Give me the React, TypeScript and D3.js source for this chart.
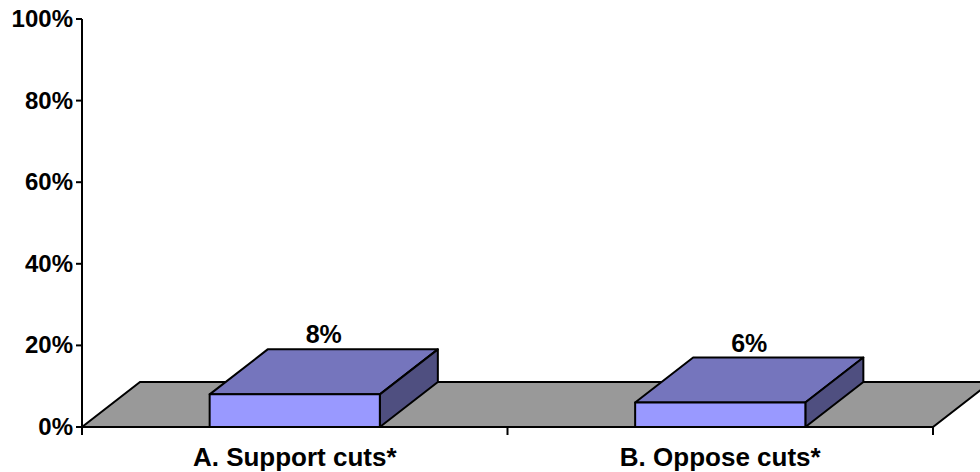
import React from "react";
import * as d3 from "d3";

const categories = ["A. Support cuts*", "B. Oppose cuts*"];
const values = [8, 6];
const yTicks = [0, 20, 40, 60, 80, 100];

const W = 980;
const H = 472;
const left = 82;
const right = 933;
const top = 19;
const bottom = 427;
const DX = 58;
const DY = -45;

export default function App() {
  const x = d3.scaleBand<string>().domain(categories).range([left, right]).paddingInner(0.6).paddingOuter(0.3);
  const xOuter = d3.scaleBand<string>().domain(categories).range([left, right]);
  const y = d3.scaleLinear().domain([0, 100]).range([bottom, top]);
  const font = "Arial, 'Liberation Sans', sans-serif";
  const y0 = y(0);

  return (
    <svg width={W} height={H} style={{ position: "absolute", left: 0, top: 0 }} fontFamily={font}>
      {/* floor */}
      <polygon
        points={`${left},${y0} ${left + DX},${y0 + DY} ${right + DX},${y0 + DY} ${right},${y0}`}
        fill="#999999"
        stroke="#000"
        strokeWidth={2}
        strokeLinejoin="miter"
      />
      {/* bars */}
      {categories.map((c, i) => {
        const x0 = x(c)!;
        const x1 = x0 + x.bandwidth();
        const yt = y(values[i]);
        return (
          <g key={c} stroke="#000" strokeWidth={2} strokeLinejoin="round">
            <polygon points={`${x0},${yt} ${x0 + DX},${yt + DY} ${x1 + DX},${yt + DY} ${x1},${yt}`} fill="#7575bd" />
            <polygon points={`${x1},${yt} ${x1 + DX},${yt + DY} ${x1 + DX},${y0 + DY} ${x1},${y0}`} fill="#4f4f80" />
            <rect x={x0} y={yt} width={x1 - x0} height={y0 - yt} fill="#9999ff" />
            <text
              x={(x0 + x1) / 2 + DX / 2}
              y={yt + DY - 6}
              textAnchor="middle"
              fontSize={25}
              fontWeight="bold"
              stroke="none"
              fill="#000"
            >
              {values[i]}%
            </text>
          </g>
        );
      })}
      {/* x axis */}
      <line x1={left} x2={right} y1={y0} y2={y0} stroke="#000" strokeWidth={2} />
      {[...categories.map((c) => xOuter(c)!), right].map((t, i) => (
        <line key={i} x1={t} x2={t} y1={y0} y2={y0 + 8} stroke="#000" strokeWidth={2} />
      ))}
      {categories.map((c) => (
        <text key={c} x={xOuter(c)! + xOuter.bandwidth() / 2} y={466} textAnchor="middle" fontSize={26} fontWeight="bold">
          {c}
        </text>
      ))}
      {/* y axis */}
      <line x1={left} x2={left} y1={top} y2={y0 + 6} stroke="#000" strokeWidth={2} />
      {yTicks.map((t) => (
        <g key={t}>
          <line x1={left - 6} x2={left} y1={y(t)} y2={y(t)} stroke="#000" strokeWidth={2} />
          <text x={left - 9} y={y(t) + 8} textAnchor="end" fontSize={24} fontWeight="bold">
            {t}%
          </text>
        </g>
      ))}
    </svg>
  );
}
